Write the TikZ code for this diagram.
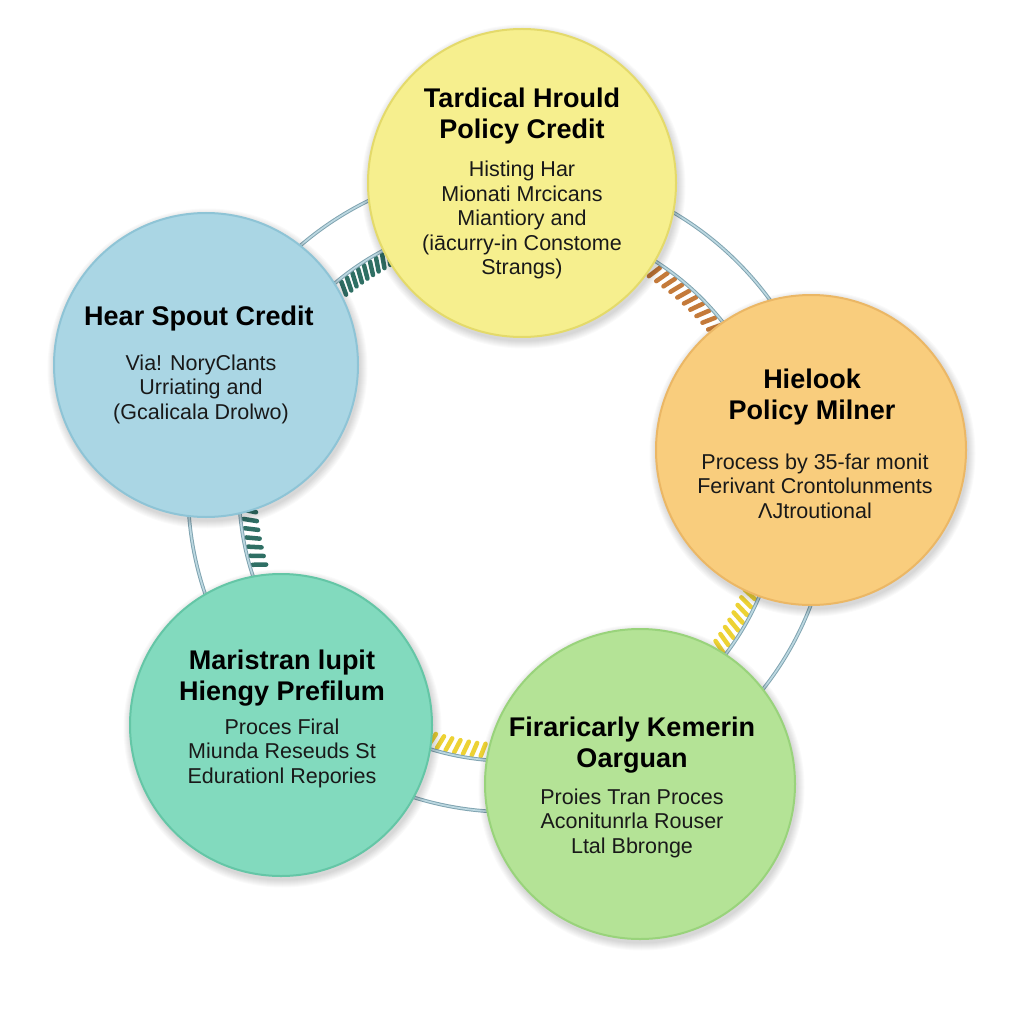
\documentclass[tikz,border=0pt]{standalone}
\usepackage{fontspec}
\setmainfont{Liberation Sans}
\definecolor{ylwF}{HTML}{F6EF8E}\definecolor{ylwD}{HTML}{E4DA6A}
\definecolor{bluF}{HTML}{AAD6E4}\definecolor{bluD}{HTML}{8EC4D6}
\definecolor{ornF}{HTML}{F9CD7D}\definecolor{ornD}{HTML}{EBB765}
\definecolor{tealF}{HTML}{82DABE}\definecolor{tealD}{HTML}{64C6A6}
\definecolor{grnF}{HTML}{B4E396}\definecolor{grnD}{HTML}{99D37B}
\definecolor{ringD}{HTML}{7FA3B0}\definecolor{ringL}{HTML}{BCD8E1}
\definecolor{tkTeal}{HTML}{2F6F64}\definecolor{tkBrown}{HTML}{C47A3A}
\definecolor{tkYel}{HTML}{EDD234}
\begin{document}
\begin{tikzpicture}[x=1pt,y=-1pt,
  bubble/.style={circle, line width=2pt, inner sep=0pt},
  softshadow/.style={fill=black, opacity=0.018},
  ttl/.style={align=center, inner sep=0pt, text=black,
    font=\bfseries\fontsize{27}{31}\selectfont},
  body/.style={align=center, inner sep=0pt, text=black!90,
    font=\fontsize{21.5}{24.5}\selectfont},
  ringline/.style={line width=3.6pt, draw=ringD},
  ringcore/.style={line width=1.7pt, draw=ringL},
  tick/.style={line width=4.5pt, line cap=round}]
\useasboundingbox (0,0) rectangle (1024,1024);
\fill[white] (0,0) rectangle (1024,1024);
\coordinate (ctr) at (510,490);
% ticks (springs) inside inner ring
\foreach \a in {-130,-128.5,...,-117.5}
  \draw[tick, tkTeal, shift={(ctr)}] (\a:255) -- (\a+1:268);
\foreach \a in {-57,-55,...,-39}
  \draw[tick, tkBrown, shift={(ctr)}] (\a:255) -- (\a+1:268);
\foreach \a in {23,24.9,...,38.5}
  \draw[tick, tkYel, shift={(ctr)}] (\a:255) -- (\a+1:268);
\foreach \a in {95.5,97.4,...,107.5}
  \draw[tick, tkYel, shift={(ctr)}] (\a:255) -- (\a+0.8:268);
\foreach \a in {163,165,...,175}
  \draw[tick, tkTeal, shift={(ctr)}] (\a:255) -- (\a+0.8:268);
% rings
\draw[ringline] (ctr) circle[radius=322];
\draw[ringcore] (ctr) circle[radius=322];
\draw[ringline] (ctr) circle[radius=271];
\draw[ringcore] (ctr) circle[radius=271];
% soft shadows
\foreach \p/\r in {{(522,183)}/154,{(206,365)}/152,{(811,450)}/155,{(281,725)}/151,{(640,784)}/155}
  \foreach \k in {1,...,8}
    \fill[softshadow, shift={(1.5,3.5)}] \p circle[radius=\r+\k];
% circles
\node[bubble, fill=ylwF, draw=ylwD, minimum size=308pt] (cy) at (522,183) {};
\node[bubble, fill=bluF, draw=bluD, minimum size=304pt] (cb) at (206,365) {};
\node[bubble, fill=ornF, draw=ornD, minimum size=310pt] (co) at (811,450) {};
\node[bubble, fill=tealF, draw=tealD, minimum size=302pt] (ct) at (281,725) {};
\node[bubble, fill=grnF, draw=grnD, minimum size=310pt] (cg) at (640,784) {};
% texts
\node[ttl] (ty) at (522,116) {Tardical Hrould\\Policy Credit};
\node[body] (by) at (522,220) {Histing Har\\Mionati Mrcicans\\Miantiory and\\(iācurry-in Constome\\Strangs)};
\node[ttl] (tb) at (199,319) {Hear Spout Credit};
\node[body] (bb) at (201,389) {Via! NoryClants\\Urriating and\\(Gcalicala Drolwo)};
\node[ttl] (to) at (812,397) {Hielook\\Policy Milner};
\node[body] (bo) at (815,486) {Process by 35-far monit\\Ferivant Crontolunments\\ΛJtroutional};
\node[ttl] (tt) at (282,678) {Maristran lupit\\Hiengy Prefilum};
\node[body] (bt) at (282,753) {Proces Firal\\Miunda Reseuds St\\Edurationl Repories};
\node[ttl] (tg) at (632,745) {Firaricarly Kemerin\\Oarguan};
\node[body] (bg) at (632,823) {Proies Tran Proces\\Aconitunrla Rouser\\Ltal Bbronge};
\end{tikzpicture}
\end{document}
